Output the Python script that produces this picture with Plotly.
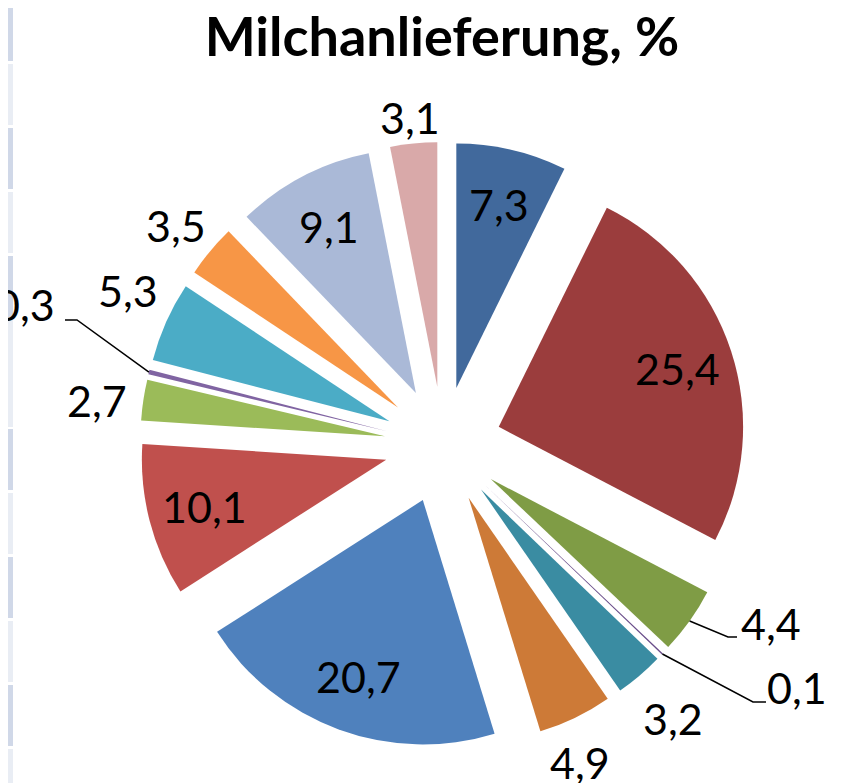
import plotly.graph_objects as go
import math

# ---- data ----
labels = ["A", "B", "C", "D", "E", "F", "G", "H", "I", "J", "K", "L", "M", "N"]
values = [7.3, 25.4, 4.4, 0.1, 3.2, 4.9, 20.7, 10.1, 2.7, 0.3, 5.3, 3.5, 9.1, 3.1]
text_labels = [f"{v:.1f}".replace(".", ",") for v in values]
colors = ["#41699C", "#9B3D3D", "#7F9C45", "#6A4E8A", "#3A8CA2", "#CD7A37",
          "#4F81BD", "#C0504D", "#9BBB59", "#8064A2", "#4BACC6", "#F79646",
          "#AAB9D7", "#D9A9A9"]
inside_set = {0, 1, 6, 7, 12}

# ---- layout / style (page offset of 8px from the default body margin) ----
OFF = 8
W, H = 841, 783
PW = PH = 606
ML, MT = 132, 134
MR, MB = W - ML - PW, H - MT - PH
PULL = 0.24
INSIDE_FRAC = 0.77
FS = 43
FONT = "Lato, Open Sans, sans-serif"

# outside label centres (page pixels) and leader-line elbows
outside_px = {11 - 11 + 13: (410, 118), 11: (176, 225), 10: (128, 290), 8: (97, 400),
              4: (673, 718), 5: (580, 762), 2: (771, 623), 3: (797, 687), 9: (25, 304)}
leaders = {2: [(728, 637), (737, 637)], 3: [(753, 702), (766, 702)],
           9: [(77, 320), (65, 320)]}


def to_paper(px, py):
    fx, fy = px - OFF, py - OFF
    return (fx - ML) / PW, (MT + PH - fy) / PH


fig = go.Figure(go.Pie(
    labels=labels, values=values, textinfo="none",
    sort=False, direction="clockwise", rotation=0,
    marker=dict(colors=colors, line=dict(width=0)),
    pull=[PULL] * len(values),
    showlegend=False, hoverinfo="skip",
))

r = min(PW, PH) / (2 + 2 * PULL)
cxp, cyp = ML + PW / 2 + OFF, MT + PH / 2 + OFF   # pie centre in page pixels
total = sum(values)
annotations = []
shapes = []
cum = 0.0
for i, v in enumerate(values):
    mid = (cum + v / 2) / total * 2 * math.pi
    cum += v
    if i in inside_set:
        dist = (PULL + INSIDE_FRAC) * r
        px = cxp + dist * math.sin(mid)
        py = cyp - dist * math.cos(mid)
    else:
        px, py = outside_px[i]
    x, y = to_paper(px, py)
    annotations.append(dict(x=x, y=y, xref="paper", yref="paper", text=text_labels[i],
                            showarrow=False, xanchor="center", yanchor="middle",
                            font=dict(family=FONT, size=FS, color="black")))
    if i in leaders:
        rr = r * (1 + PULL)
        tx = cxp + rr * math.sin(mid)
        ty = cyp - rr * math.cos(mid)
        pts = [(tx, ty)] + leaders[i]
        path = ""
        for k, (qx, qy) in enumerate(pts):
            a, b = to_paper(qx, qy)
            path += ("M" if k == 0 else " L") + f"{a:.5f},{b:.5f}"
        shapes.append(dict(type="path", xref="paper", yref="paper", path=path,
                           line=dict(color="black", width=1.5)))

# spreadsheet-like stripe at the left edge (page pixels)
stripe = [(0, 61, "#D0D8E8"), (64, 125, "#E9EDF4"), (128, 189, "#D0D8E8"),
          (192, 253, "#E9EDF4"), (256, 317, "#D0D8E8"), (320, 427, "#E9EDF4"),
          (429, 490, "#D0D8E8"), (493, 554, "#E9EDF4"), (557, 618, "#D0D8E8"),
          (621, 682, "#E9EDF4"), (685, 746, "#D0D8E8"), (749, 790, "#E9EDF4")]
for y0, y1, c in stripe:
    x0p, y1p = to_paper(OFF, y0)
    x1p, y0p = to_paper(13, y1)
    shapes.append(dict(type="rect", xref="paper", yref="paper",
                       x0=x0p, x1=x1p, y0=y0p, y1=y1p,
                       fillcolor=c, line=dict(width=0), layer="below"))

fig.update_layout(
    width=W, height=H,
    margin=dict(l=ML, r=MR, t=MT, b=MB, autoexpand=False),
    paper_bgcolor="white", plot_bgcolor="white",
    title=dict(text="<b>Milchanlieferung, %</b>", x=(442 - OFF) / W, xanchor="center",
               y=1 - (37 - OFF) / H, yanchor="middle",
               font=dict(family=FONT, size=54, color="black")),
    annotations=annotations,
    shapes=shapes,
)

fig.write_html("out.html")
